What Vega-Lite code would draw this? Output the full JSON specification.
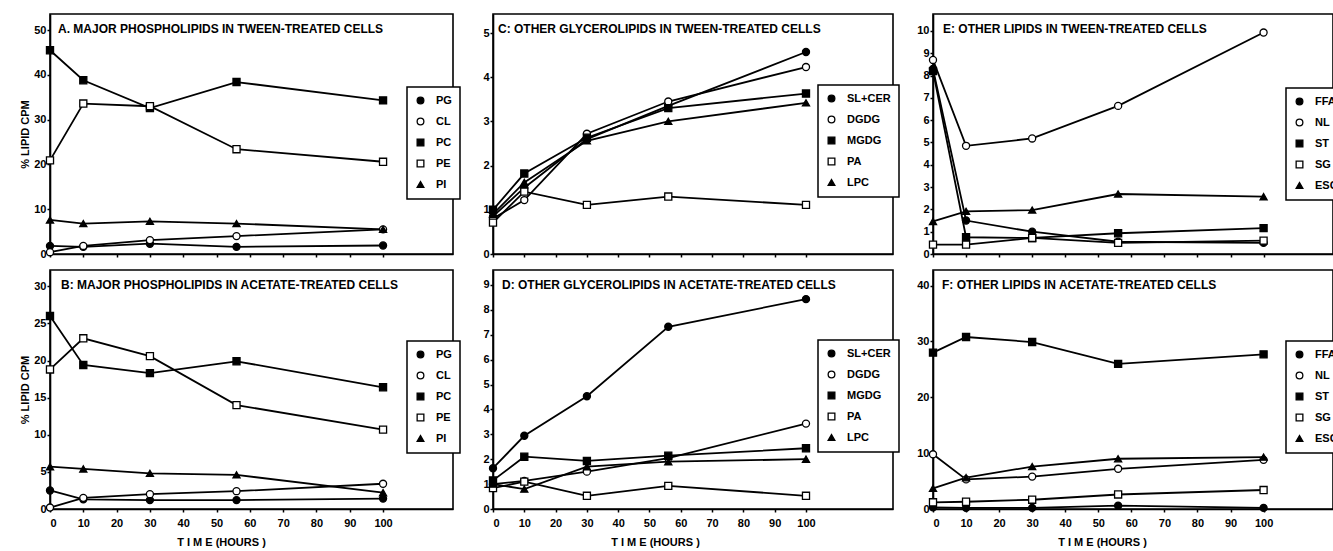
{
  "$schema": "https://vega.github.io/schema/vega-lite/v6.json",
  "padding": {"left": 18, "top": 13, "right": 0, "bottom": 0},
  "background": "white",
  "config": {
    "view": {"stroke": "black", "strokeWidth": 1.6},
    "axis": {"domainColor": "black", "domainWidth": 1.6, "tickColor": "black", "tickWidth": 1.5, "tickSize": 3, "labelColor": "black", "titleColor": "black", "grid": false, "labelFont": "Liberation Sans", "labelFontWeight": "bold", "labelFontSize": 11, "titleFont": "Liberation Sans", "titleFontWeight": "bold", "titleFontSize": 11, "labelPadding": 1},
    "legend": {"strokeColor": "black", "strokeWidth": 1.5, "padding": 8, "symbolSize": 45, "symbolStrokeWidth": 1.3, "labelFont": "Liberation Sans", "labelFontWeight": "bold", "labelFontSize": 11, "labelColor": "black", "rowPadding": 8, "labelOffset": 10, "fillColor": "white"},
    "title": {"font": "Liberation Sans", "fontWeight": "bold", "fontSize": 12, "color": "black", "anchor": "start", "frame": "group", "orient": "top", "baseline": "top", "offset": -9, "dy": 13}
  },
  "vconcat": [
    {
      "hconcat": [
        {
          "width": 403, "height": 240,
          "title": {"text": "A. MAJOR PHOSPHOLIPIDS IN TWEEN-TREATED CELLS", "dx": 8},
          "data": {"values": [
            {"s": "PG", "t": 0, "v": 1.8}, {"s": "PG", "t": 10, "v": 1.6}, {"s": "PG", "t": 30, "v": 2.3}, {"s": "PG", "t": 56, "v": 1.6}, {"s": "PG", "t": 100, "v": 1.9},
            {"s": "CL", "t": 0, "v": 0.4}, {"s": "CL", "t": 10, "v": 1.8}, {"s": "CL", "t": 30, "v": 3.1}, {"s": "CL", "t": 56, "v": 4.0}, {"s": "CL", "t": 100, "v": 5.5},
            {"s": "PC", "t": 0, "v": 45.5}, {"s": "PC", "t": 10, "v": 38.8}, {"s": "PC", "t": 30, "v": 32.6}, {"s": "PC", "t": 56, "v": 38.4}, {"s": "PC", "t": 100, "v": 34.3},
            {"s": "PE", "t": 0, "v": 20.9}, {"s": "PE", "t": 10, "v": 33.6}, {"s": "PE", "t": 30, "v": 33.0}, {"s": "PE", "t": 56, "v": 23.4}, {"s": "PE", "t": 100, "v": 20.6},
            {"s": "PI", "t": 0, "v": 7.6}, {"s": "PI", "t": 10, "v": 6.8}, {"s": "PI", "t": 30, "v": 7.3}, {"s": "PI", "t": 56, "v": 6.8}, {"s": "PI", "t": 100, "v": 5.5}
          ]},
          "encoding": {
            "x": {"field": "t", "type": "quantitative", "scale": {"domain": [0, 121], "nice": false}, "axis": {"values": [0, 10, 20, 30, 40, 50, 60, 70, 80, 90, 100], "labels": false, "title": null}},
            "y": {"field": "v", "type": "quantitative", "scale": {"domain": [0, 53.6], "nice": false}, "axis": {"values": [0, 10, 20, 30, 40, 50], "title": "% LIPID CPM", "titlePadding": 3}}
          },
          "layer": [
            {"mark": {"type": "line", "color": "black", "strokeWidth": 1.8}, "encoding": {"detail": {"field": "s"}}},
            {"mark": {"type": "point", "filled": false, "color": "black", "size": 50, "strokeWidth": 1.3, "opacity": 1},
             "encoding": {
               "shape": {"field": "s", "type": "nominal", "scale": {"domain": ["PG", "CL", "PC", "PE", "PI"], "range": ["circle", "circle", "square", "square", "triangle-up"]}, "legend": {"title": null, "orient": "none", "legendX": 357, "legendY": 73}},
               "fill": {"field": "s", "type": "nominal", "scale": {"domain": ["PG", "CL", "PC", "PE", "PI"], "range": ["black", "white", "black", "white", "black"]}, "legend": {"title": null, "orient": "none", "legendX": 357, "legendY": 73}},
               "stroke": {"field": "s", "type": "nominal", "scale": {"domain": ["PG", "CL", "PC", "PE", "PI"], "range": ["black", "black", "black", "black", "black"]}, "legend": {"title": null, "orient": "none", "legendX": 357, "legendY": 73}}
             }}
          ]
        },
        {
          "width": 400, "height": 240,
          "title": {"text": "C: OTHER GLYCEROLIPIDS IN TWEEN-TREATED CELLS", "dx": 5},
          "data": {"values": [
            {"s": "SL+CER", "t": 0, "v": 0.85}, {"s": "SL+CER", "t": 10, "v": 1.5}, {"s": "SL+CER", "t": 30, "v": 2.6}, {"s": "SL+CER", "t": 56, "v": 3.35}, {"s": "SL+CER", "t": 100, "v": 4.57},
            {"s": "DGDG", "t": 0, "v": 0.8}, {"s": "DGDG", "t": 10, "v": 1.22}, {"s": "DGDG", "t": 30, "v": 2.72}, {"s": "DGDG", "t": 56, "v": 3.45}, {"s": "DGDG", "t": 100, "v": 4.23},
            {"s": "MGDG", "t": 0, "v": 1.0}, {"s": "MGDG", "t": 10, "v": 1.82}, {"s": "MGDG", "t": 30, "v": 2.63}, {"s": "MGDG", "t": 56, "v": 3.3}, {"s": "MGDG", "t": 100, "v": 3.63},
            {"s": "PA", "t": 0, "v": 0.71}, {"s": "PA", "t": 10, "v": 1.41}, {"s": "PA", "t": 30, "v": 1.11}, {"s": "PA", "t": 56, "v": 1.3}, {"s": "PA", "t": 100, "v": 1.11},
            {"s": "LPC", "t": 0, "v": 0.9}, {"s": "LPC", "t": 10, "v": 1.62}, {"s": "LPC", "t": 30, "v": 2.56}, {"s": "LPC", "t": 56, "v": 3.0}, {"s": "LPC", "t": 100, "v": 3.42}
          ]},
          "encoding": {
            "x": {"field": "t", "type": "quantitative", "scale": {"domain": [0, 127.8], "nice": false}, "axis": {"values": [0, 10, 20, 30, 40, 50, 60, 70, 80, 90, 100], "labels": false, "title": null}},
            "y": {"field": "v", "type": "quantitative", "scale": {"domain": [0, 5.43], "nice": false}, "axis": {"values": [0, 1, 2, 3, 4, 5], "title": null}}
          },
          "layer": [
            {"mark": {"type": "line", "color": "black", "strokeWidth": 1.8}, "encoding": {"detail": {"field": "s"}}},
            {"mark": {"type": "point", "filled": false, "color": "black", "size": 50, "strokeWidth": 1.3, "opacity": 1},
             "encoding": {
               "shape": {"field": "s", "type": "nominal", "scale": {"domain": ["SL+CER", "DGDG", "MGDG", "PA", "LPC"], "range": ["circle", "circle", "square", "square", "triangle-up"]}, "legend": {"title": null, "orient": "none", "legendX": 325, "legendY": 71}},
               "fill": {"field": "s", "type": "nominal", "scale": {"domain": ["SL+CER", "DGDG", "MGDG", "PA", "LPC"], "range": ["black", "white", "black", "white", "black"]}, "legend": {"title": null, "orient": "none", "legendX": 325, "legendY": 71}},
               "stroke": {"field": "s", "type": "nominal", "scale": {"domain": ["SL+CER", "DGDG", "MGDG", "PA", "LPC"], "range": ["black", "black", "black", "black", "black"]}, "legend": {"title": null, "orient": "none", "legendX": 325, "legendY": 71}}
             }}
          ]
        },
        {
          "width": 400, "height": 240,
          "title": {"text": "E: OTHER LIPIDS IN TWEEN-TREATED CELLS", "dx": 10},
          "data": {"values": [
            {"s": "FFA", "t": 0, "v": 8.3}, {"s": "FFA", "t": 10, "v": 1.5}, {"s": "FFA", "t": 30, "v": 1.0}, {"s": "FFA", "t": 56, "v": 0.55}, {"s": "FFA", "t": 100, "v": 0.5},
            {"s": "NL", "t": 0, "v": 8.7}, {"s": "NL", "t": 10, "v": 4.85}, {"s": "NL", "t": 30, "v": 5.18}, {"s": "NL", "t": 56, "v": 6.64}, {"s": "NL", "t": 100, "v": 9.93},
            {"s": "ST", "t": 0, "v": 8.2}, {"s": "ST", "t": 10, "v": 0.75}, {"s": "ST", "t": 30, "v": 0.72}, {"s": "ST", "t": 56, "v": 0.93}, {"s": "ST", "t": 100, "v": 1.16},
            {"s": "SG", "t": 0, "v": 0.42}, {"s": "SG", "t": 10, "v": 0.42}, {"s": "SG", "t": 30, "v": 0.72}, {"s": "SG", "t": 56, "v": 0.5}, {"s": "SG", "t": 100, "v": 0.6},
            {"s": "ESG", "t": 0, "v": 1.46}, {"s": "ESG", "t": 10, "v": 1.91}, {"s": "ESG", "t": 30, "v": 1.97}, {"s": "ESG", "t": 56, "v": 2.69}, {"s": "ESG", "t": 100, "v": 2.57}
          ]},
          "encoding": {
            "x": {"field": "t", "type": "quantitative", "scale": {"domain": [0, 121], "nice": false}, "axis": {"values": [0, 10, 20, 30, 40, 50, 60, 70, 80, 90, 100], "labels": false, "title": null}},
            "y": {"field": "v", "type": "quantitative", "scale": {"domain": [0, 10.76], "nice": false}, "axis": {"values": [0, 1, 2, 3, 4, 5, 6, 7, 8, 9, 10], "title": null}}
          },
          "layer": [
            {"mark": {"type": "line", "color": "black", "strokeWidth": 1.8}, "encoding": {"detail": {"field": "s"}}},
            {"mark": {"type": "point", "filled": false, "color": "black", "size": 50, "strokeWidth": 1.3, "opacity": 1},
             "encoding": {
               "shape": {"field": "s", "type": "nominal", "scale": {"domain": ["FFA", "NL", "ST", "SG", "ESG"], "range": ["circle", "circle", "square", "square", "triangle-up"]}, "legend": {"title": null, "orient": "none", "legendX": 353, "legendY": 74}},
               "fill": {"field": "s", "type": "nominal", "scale": {"domain": ["FFA", "NL", "ST", "SG", "ESG"], "range": ["black", "white", "black", "white", "black"]}, "legend": {"title": null, "orient": "none", "legendX": 353, "legendY": 74}},
               "stroke": {"field": "s", "type": "nominal", "scale": {"domain": ["FFA", "NL", "ST", "SG", "ESG"], "range": ["black", "black", "black", "black", "black"]}, "legend": {"title": null, "orient": "none", "legendX": 353, "legendY": 74}}
             }}
          ]
        }
      ],
      "spacing": 40,
      "bounds": "flush",
      "resolve": {"scale": {"shape": "independent", "fill": "independent", "stroke": "independent"}}
    },
    {
      "hconcat": [
        {
          "width": 403, "height": 239,
          "title": {"text": "B: MAJOR PHOSPHOLIPIDS IN ACETATE-TREATED CELLS", "dx": 11},
          "data": {"values": [
            {"s": "PG", "t": 0, "v": 2.5}, {"s": "PG", "t": 10, "v": 1.3}, {"s": "PG", "t": 30, "v": 1.2}, {"s": "PG", "t": 56, "v": 1.2}, {"s": "PG", "t": 100, "v": 1.4},
            {"s": "CL", "t": 0, "v": 0.2}, {"s": "CL", "t": 10, "v": 1.5}, {"s": "CL", "t": 30, "v": 2.0}, {"s": "CL", "t": 56, "v": 2.4}, {"s": "CL", "t": 100, "v": 3.4},
            {"s": "PC", "t": 0, "v": 26.0}, {"s": "PC", "t": 10, "v": 19.4}, {"s": "PC", "t": 30, "v": 18.3}, {"s": "PC", "t": 56, "v": 19.9}, {"s": "PC", "t": 100, "v": 16.4},
            {"s": "PE", "t": 0, "v": 18.8}, {"s": "PE", "t": 10, "v": 23.0}, {"s": "PE", "t": 30, "v": 20.6}, {"s": "PE", "t": 56, "v": 14.0}, {"s": "PE", "t": 100, "v": 10.7},
            {"s": "PI", "t": 0, "v": 5.7}, {"s": "PI", "t": 10, "v": 5.4}, {"s": "PI", "t": 30, "v": 4.8}, {"s": "PI", "t": 56, "v": 4.6}, {"s": "PI", "t": 100, "v": 2.2}
          ]},
          "encoding": {
            "x": {"field": "t", "type": "quantitative", "scale": {"domain": [0, 121], "nice": false}, "axis": {"values": [0, 10, 20, 30, 40, 50, 60, 70, 80, 90, 100], "labelPadding": 5, "title": "T I M E  (HOURS )", "titlePadding": 8, "titleX": 171}},
            "y": {"field": "v", "type": "quantitative", "scale": {"domain": [0, 32.2], "nice": false}, "axis": {"values": [0, 5, 10, 15, 20, 25, 30], "title": "% LIPID CPM", "titlePadding": 3}}
          },
          "layer": [
            {"mark": {"type": "line", "color": "black", "strokeWidth": 1.8}, "encoding": {"detail": {"field": "s"}}},
            {"mark": {"type": "point", "filled": false, "color": "black", "size": 50, "strokeWidth": 1.3, "opacity": 1},
             "encoding": {
               "shape": {"field": "s", "type": "nominal", "scale": {"domain": ["PG", "CL", "PC", "PE", "PI"], "range": ["circle", "circle", "square", "square", "triangle-up"]}, "legend": {"title": null, "orient": "none", "legendX": 357, "legendY": 71}},
               "fill": {"field": "s", "type": "nominal", "scale": {"domain": ["PG", "CL", "PC", "PE", "PI"], "range": ["black", "white", "black", "white", "black"]}, "legend": {"title": null, "orient": "none", "legendX": 357, "legendY": 71}},
               "stroke": {"field": "s", "type": "nominal", "scale": {"domain": ["PG", "CL", "PC", "PE", "PI"], "range": ["black", "black", "black", "black", "black"]}, "legend": {"title": null, "orient": "none", "legendX": 357, "legendY": 71}}
             }}
          ]
        },
        {
          "width": 400, "height": 239,
          "title": {"text": "D: OTHER GLYCEROLIPIDS IN ACETATE-TREATED CELLS", "dx": 9},
          "data": {"values": [
            {"s": "SL+CER", "t": 0, "v": 1.64}, {"s": "SL+CER", "t": 10, "v": 2.94}, {"s": "SL+CER", "t": 30, "v": 4.53}, {"s": "SL+CER", "t": 56, "v": 7.32}, {"s": "SL+CER", "t": 100, "v": 8.43},
            {"s": "DGDG", "t": 0, "v": 1.0}, {"s": "DGDG", "t": 10, "v": 1.13}, {"s": "DGDG", "t": 30, "v": 1.5}, {"s": "DGDG", "t": 56, "v": 2.04}, {"s": "DGDG", "t": 100, "v": 3.43},
            {"s": "MGDG", "t": 0, "v": 1.15}, {"s": "MGDG", "t": 10, "v": 2.1}, {"s": "MGDG", "t": 30, "v": 1.93}, {"s": "MGDG", "t": 56, "v": 2.14}, {"s": "MGDG", "t": 100, "v": 2.44},
            {"s": "PA", "t": 0, "v": 0.84}, {"s": "PA", "t": 10, "v": 1.1}, {"s": "PA", "t": 30, "v": 0.53}, {"s": "PA", "t": 56, "v": 0.93}, {"s": "PA", "t": 100, "v": 0.53},
            {"s": "LPC", "t": 0, "v": 1.0}, {"s": "LPC", "t": 10, "v": 0.8}, {"s": "LPC", "t": 30, "v": 1.7}, {"s": "LPC", "t": 56, "v": 1.9}, {"s": "LPC", "t": 100, "v": 2.0}
          ]},
          "encoding": {
            "x": {"field": "t", "type": "quantitative", "scale": {"domain": [0, 127.8], "nice": false}, "axis": {"values": [0, 10, 20, 30, 40, 50, 60, 70, 80, 90, 100], "labelPadding": 5, "title": "T I M E  (HOURS )", "titlePadding": 8, "titleX": 162}},
            "y": {"field": "v", "type": "quantitative", "scale": {"domain": [0, 9.6], "nice": false}, "axis": {"values": [0, 1, 2, 3, 4, 5, 6, 7, 8, 9], "title": null}}
          },
          "layer": [
            {"mark": {"type": "line", "color": "black", "strokeWidth": 1.8}, "encoding": {"detail": {"field": "s"}}},
            {"mark": {"type": "point", "filled": false, "color": "black", "size": 50, "strokeWidth": 1.3, "opacity": 1},
             "encoding": {
               "shape": {"field": "s", "type": "nominal", "scale": {"domain": ["SL+CER", "DGDG", "MGDG", "PA", "LPC"], "range": ["circle", "circle", "square", "square", "triangle-up"]}, "legend": {"title": null, "orient": "none", "legendX": 325, "legendY": 70}},
               "fill": {"field": "s", "type": "nominal", "scale": {"domain": ["SL+CER", "DGDG", "MGDG", "PA", "LPC"], "range": ["black", "white", "black", "white", "black"]}, "legend": {"title": null, "orient": "none", "legendX": 325, "legendY": 70}},
               "stroke": {"field": "s", "type": "nominal", "scale": {"domain": ["SL+CER", "DGDG", "MGDG", "PA", "LPC"], "range": ["black", "black", "black", "black", "black"]}, "legend": {"title": null, "orient": "none", "legendX": 325, "legendY": 70}}
             }}
          ]
        },
        {
          "width": 400, "height": 239,
          "title": {"text": "F: OTHER LIPIDS IN ACETATE-TREATED CELLS", "dx": 9},
          "data": {"values": [
            {"s": "FFA", "t": 0, "v": 0.3}, {"s": "FFA", "t": 10, "v": 0.2}, {"s": "FFA", "t": 30, "v": 0.2}, {"s": "FFA", "t": 56, "v": 0.6}, {"s": "FFA", "t": 100, "v": 0.2},
            {"s": "NL", "t": 0, "v": 9.8}, {"s": "NL", "t": 10, "v": 5.3}, {"s": "NL", "t": 30, "v": 5.8}, {"s": "NL", "t": 56, "v": 7.2}, {"s": "NL", "t": 100, "v": 8.8},
            {"s": "ST", "t": 0, "v": 28.0}, {"s": "ST", "t": 10, "v": 30.8}, {"s": "ST", "t": 30, "v": 29.9}, {"s": "ST", "t": 56, "v": 26.0}, {"s": "ST", "t": 100, "v": 27.7},
            {"s": "SG", "t": 0, "v": 1.2}, {"s": "SG", "t": 10, "v": 1.3}, {"s": "SG", "t": 30, "v": 1.66}, {"s": "SG", "t": 56, "v": 2.6}, {"s": "SG", "t": 100, "v": 3.4},
            {"s": "ESG", "t": 0, "v": 3.7}, {"s": "ESG", "t": 10, "v": 5.6}, {"s": "ESG", "t": 30, "v": 7.6}, {"s": "ESG", "t": 56, "v": 9.0}, {"s": "ESG", "t": 100, "v": 9.3}
          ]},
          "encoding": {
            "x": {"field": "t", "type": "quantitative", "scale": {"domain": [0, 121], "nice": false}, "axis": {"values": [0, 10, 20, 30, 40, 50, 60, 70, 80, 90, 100], "labelPadding": 5, "title": "T I M E  (HOURS )", "titlePadding": 8, "titleX": 169}},
            "y": {"field": "v", "type": "quantitative", "scale": {"domain": [0, 42.8], "nice": false}, "axis": {"values": [0, 10, 20, 30, 40], "title": null}}
          },
          "layer": [
            {"mark": {"type": "line", "color": "black", "strokeWidth": 1.8}, "encoding": {"detail": {"field": "s"}}},
            {"mark": {"type": "point", "filled": false, "color": "black", "size": 50, "strokeWidth": 1.3, "opacity": 1},
             "encoding": {
               "shape": {"field": "s", "type": "nominal", "scale": {"domain": ["FFA", "NL", "ST", "SG", "ESG"], "range": ["circle", "circle", "square", "square", "triangle-up"]}, "legend": {"title": null, "orient": "none", "legendX": 353, "legendY": 71}},
               "fill": {"field": "s", "type": "nominal", "scale": {"domain": ["FFA", "NL", "ST", "SG", "ESG"], "range": ["black", "white", "black", "white", "black"]}, "legend": {"title": null, "orient": "none", "legendX": 353, "legendY": 71}},
               "stroke": {"field": "s", "type": "nominal", "scale": {"domain": ["FFA", "NL", "ST", "SG", "ESG"], "range": ["black", "black", "black", "black", "black"]}, "legend": {"title": null, "orient": "none", "legendX": 353, "legendY": 71}}
             }}
          ]
        }
      ],
      "spacing": 40,
      "bounds": "flush",
      "resolve": {"scale": {"shape": "independent", "fill": "independent", "stroke": "independent"}}
    }
  ],
  "spacing": 9,
  "resolve": {"scale": {"shape": "independent", "fill": "independent", "stroke": "independent"}}
}
